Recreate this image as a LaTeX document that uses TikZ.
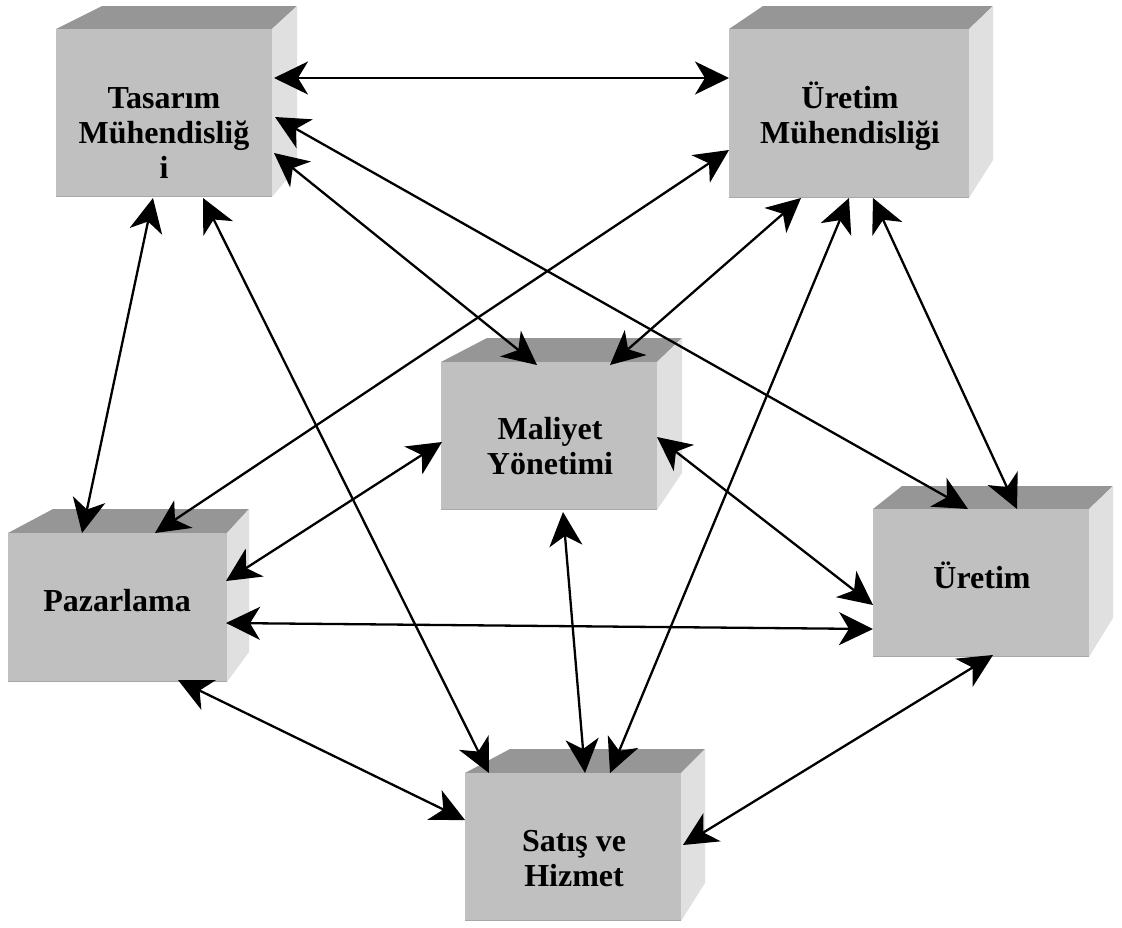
\documentclass[tikz,border=0pt]{standalone}
\usepackage{fontspec}
\setmainfont{Liberation Serif}
\usetikzlibrary{arrows.meta}

\definecolor{facegray}{HTML}{C0C0C0}
\definecolor{topgray}{HTML}{969696}
\definecolor{sidegray}{HTML}{E0E0E0}
\definecolor{edgegray}{HTML}{A8A8A8}

% #1 name, #2 #3 front top-left, #4 #5 front bottom-right,
% #6 back-left x, #7 back-right x, #8 back top y, #9 back bottom y
\newcommand{\cubebox}[9]{%
  \fill[topgray] (#2,#3) -- (#6,#8) -- (#7,#8) -- (#4,#3) -- cycle;
  \fill[sidegray] (#4,#3) -- (#7,#8) -- (#7,#9) -- (#4,#5) -- cycle;
  \node[face, minimum width={(#4-#2)*1pt}, minimum height={(#5-#3)*1pt}]
    (#1) at ({(#2+#4)/2},{(#3+#5)/2}) {};
  \draw[edgegray, line width=1.5pt] ([yshift=0.75pt]#1.south west) -- ([yshift=0.75pt]#1.south east);
}

\tikzset{
  face/.style={rectangle, fill=facegray, inner sep=0pt, outer sep=0pt},
  lbl/.style={anchor=base, inner sep=0pt, font=\fontsize{32}{35}\selectfont\bfseries},
  >={Stealth[length=34pt, width=33pt, inset=10pt]},
  conn/.style={<->, line width=2.3pt, black},
}

\begin{document}
\begin{tikzpicture}[x=1pt, y=-1pt]
\useasboundingbox (0,0) rectangle (1122,927);

% boxes
\cubebox{tas}{56}{29}{272}{197}{102}{297}{6}{167}
\cubebox{urm}{729}{29}{969}{198}{763}{993}{6}{160}
\cubebox{mal}{441}{362}{657}{510}{487}{682}{338}{473}
\cubebox{paz}{8}{533}{227}{682}{53}{249}{509}{652}
\cubebox{ure}{873}{509}{1089}{657}{902}{1113}{486}{618}
\cubebox{sat}{465}{773}{681}{921}{510}{705}{749}{883}

% labels
\node[lbl] (tas-t) at (164,108) {\begin{tabular}[t]{@{}c@{}}Tasarım\\Mühendisliğ\\i\end{tabular}};
\node[lbl] (urm-t) at (850,108) {\begin{tabular}[t]{@{}c@{}}Üretim\\Mühendisliği\end{tabular}};
\node[lbl] (mal-t) at (550,439) {\begin{tabular}[t]{@{}c@{}}Maliyet\\Yönetimi\end{tabular}};
\node[lbl] (paz-t) at (117,611) {Pazarlama};
\node[lbl] (ure-t) at (982,588) {Üretim};
\node[lbl] (sat-t) at (574,851) {\begin{tabular}[t]{@{}c@{}}Satış ve\\Hizmet\end{tabular}};

% connectors
\draw[conn] ([shift={(218,49)}]tas.north west) -- ([shift={(0,49)}]urm.north west);
\draw[conn] ([shift={(219,88)}]tas.north west) -- ([shift={(95,0)}]ure.north west);
\draw[conn] ([shift={(218,124)}]tas.north west) -- ([shift={(96,3)}]mal.north west);
\draw[conn] ([shift={(97,169)}]tas.north west) -- ([shift={(74,0)}]paz.north west);
\draw[conn] ([shift={(147,169)}]tas.north west) -- ([shift={(24,0)}]sat.north west);
\draw[conn] ([shift={(0,121)}]urm.north west) -- ([shift={(147,0)}]paz.north west);
\draw[conn] ([shift={(72,169)}]urm.north west) -- ([shift={(169,3)}]mal.north west);
\draw[conn] ([shift={(120,169)}]urm.north west) -- ([shift={(145,0)}]sat.north west);
\draw[conn] ([shift={(144,169)}]urm.north west) -- ([shift={(144,0)}]ure.north west);
\draw[conn] ([shift={(1,80)}]mal.north west) -- ([shift={(218,48)}]paz.north west);
\draw[conn] ([shift={(216,75)}]mal.north west) -- ([shift={(0,96)}]ure.north west);
\draw[conn] ([shift={(122,150)}]mal.north west) -- ([shift={(120,0)}]sat.north west);
\draw[conn] ([shift={(218,90)}]paz.north west) -- ([shift={(0,120)}]ure.north west);
\draw[conn] ([shift={(170,147)}]paz.north west) -- ([shift={(0,47)}]sat.north west);
\draw[conn] ([shift={(120,146)}]ure.north west) -- ([shift={(218,72)}]sat.north west);
\end{tikzpicture}
\end{document}
